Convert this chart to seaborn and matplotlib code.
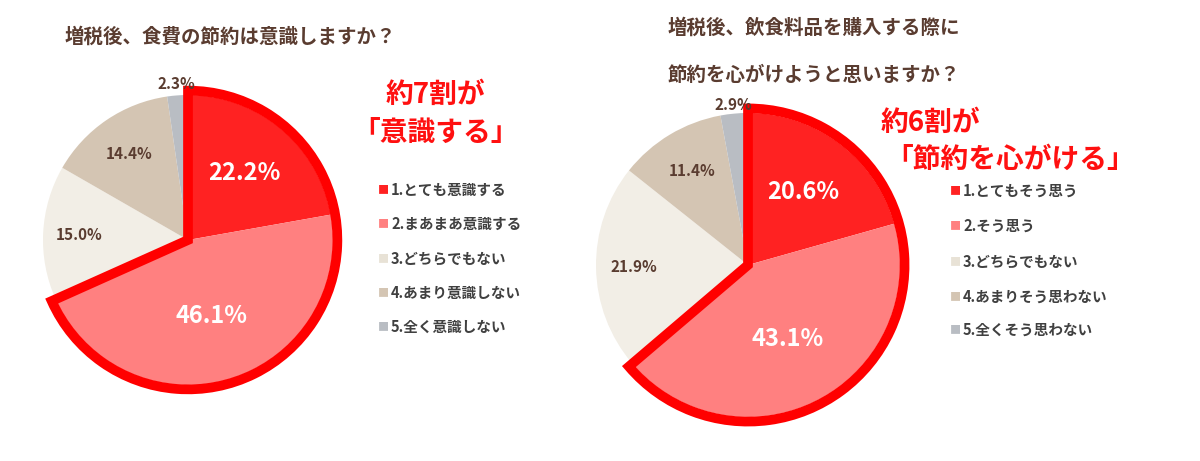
import numpy as np
import matplotlib
matplotlib.use("Agg")
import matplotlib.pyplot as plt
import seaborn as sns
from matplotlib.patches import Wedge

sns.set_theme(style="white")
plt.rcParams['font.family'] = ['Noto Sans CJK JP', 'DejaVu Sans']

left_labels = ["1.とても意識する", "2.まあまあ意識する", "3.どちらでもない", "4.あまり意識しない", "5.全く意識しない"]
left_values = [22.2, 46.1, 15.0, 14.4, 2.3]
right_labels = ["1.とてもそう思う", "2.そう思う", "3.どちらでもない", "4.あまりそう思わない", "5.全くそう思わない"]
right_values = [20.6, 43.1, 21.9, 11.4, 2.9]
colors = ["#FF2222", "#FF8080", "#F2EEE6", "#D4C5B3", "#B9BDC3"]
txt_colors = ["white", "white", "#5a3c30", "#5a3c30", "#5a3c30"]
brown = "#5a3c30"

W, H = 1200, 461
fig = plt.figure(figsize=(12, 4.61), dpi=100)

def pie_at(cx, cy, R, values, pct_r):
    ax = fig.add_axes([(cx - 1.2 * R) / W, 1 - (cy + 1.2 * R) / H, 2.4 * R / W, 2.4 * R / H])
    wedges, texts = ax.pie(values, colors=colors, startangle=90, counterclock=False,
                           radius=1, wedgeprops=dict(linewidth=0))
    total = sum(values)
    ang = 90
    for i, v in enumerate(values):
        mid = np.deg2rad(ang - v / total * 180)
        ang -= v / total * 360
        r = pct_r[i]
        big = i < 2
        ax.text(r * np.cos(mid), r * np.sin(mid), f"{v:.1f}%", ha="center", va="center",
                color=txt_colors[i], fontsize=17 if big else 11, fontweight="bold")
    frac = (values[0] + values[1]) / total
    ax.add_patch(Wedge((0, 0), 1.03, 90 - frac * 360, 90, fill=False,
                       edgecolor="#FF0000", linewidth=7, joinstyle="miter"))
    ax.set_xlim(-1.2, 1.2); ax.set_ylim(-1.2, 1.2); ax.set_aspect("equal"); ax.axis("off")

pie_at(188, 240, 145, left_values, [0.6, 0.55, 0.75, 0.72, 1.08])
pie_at(748, 265, 152, right_values, [0.6, 0.55, 0.75, 0.72, 1.06])

def ftext(x, y, s, **kw):
    fig.text(x / W, 1 - y / H, s, **kw)

ftext(65, 37, "増税後、食費の節約は意識しますか？", fontsize=14, fontweight="bold", color=brown, va="center")
ftext(668, 28, "増税後、飲食料品を購入する際に", fontsize=14, fontweight="bold", color=brown, va="center")
ftext(668, 75, "節約を心がけようと思いますか？", fontsize=14, fontweight="bold", color=brown, va="center")
ftext(435, 95, "約7割が", fontsize=20, fontweight="bold", color="#FF1010", ha="center", va="center")
ftext(435, 133, "「意識する」", fontsize=20, fontweight="bold", color="#FF1010", ha="center", va="center")
ftext(930, 123, "約6割が", fontsize=20, fontweight="bold", color="#FF1010", ha="center", va="center")
ftext(1010, 160, "「節約を心がける」", fontsize=20, fontweight="bold", color="#FF1010", ha="center", va="center")

for labels, x0, ys in [(left_labels, 378, [190, 224, 259, 293, 327]),
                       (right_labels, 950, [191, 226, 262, 297, 330])]:
    for i, (lab, y) in enumerate(zip(labels, ys)):
        ftext(x0, y, "■", fontsize=8, color=colors[i] if i != 2 else "#E8E2D6", va="center")
        ftext(x0 + 13, y, lab, fontsize=10.5, fontweight="bold", color="#404040", va="center")

fig.savefig("out.png", dpi=100, facecolor="white")
